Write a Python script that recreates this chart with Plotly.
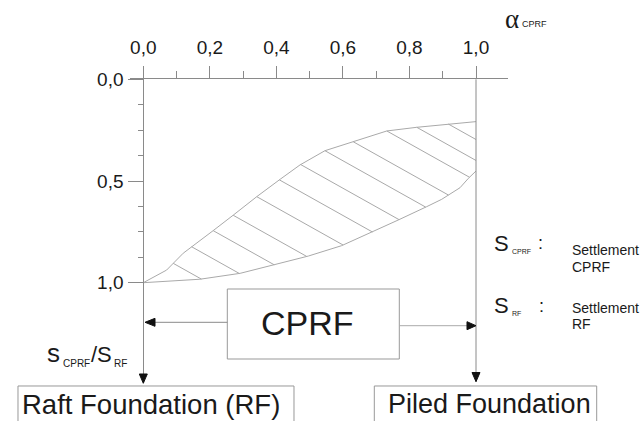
import numpy as np
import plotly.graph_objects as go

# ---------------- data ----------------
alpha_upper = [0.0, 0.070, 0.120, 0.145, 0.210, 0.271, 0.341, 0.411, 0.471, 0.546, 0.631, 0.732, 0.822, 0.917, 1.0]
s_upper = [1.0, 0.938, 0.855, 0.823, 0.744, 0.667, 0.577, 0.492, 0.421, 0.351, 0.307, 0.254, 0.236, 0.220, 0.208]
alpha_lower = [0.0, 0.170, 0.291, 0.391, 0.496, 0.596, 0.691, 0.766, 0.852, 0.897, 0.952, 0.977, 1.0]
s_lower = [1.0, 0.983, 0.954, 0.913, 0.869, 0.818, 0.749, 0.692, 0.626, 0.590, 0.533, 0.487, 0.451]
hatch_alpha = [0.090, 0.145, 0.210, 0.270, 0.341, 0.409, 0.473, 0.546, 0.631, 0.732, 0.822, 0.917]
hatch_slope = 0.916
x_ticks = [0.0, 0.2, 0.4, 0.6, 0.8, 1.0]
x_minor = [0.1, 0.3, 0.5, 0.7, 0.9]
y_ticks = [0.0, 0.5, 1.0]
y_minor = [0.125, 0.25, 0.375, 0.625, 0.75, 0.875]

W, H = 643, 421
FONT = "Liberation Sans, Arial, sans-serif"
AX = "#8a8a8a"
CURVE = "#a9a9a9"


def px(x):
    return x / W


def py(y):
    return 1 - y / H


# hatch lines computed from the curves
hx, hy = [], []
for a in hatch_alpha:
    s0 = float(np.interp(a, alpha_upper, s_upper))
    g = np.linspace(a, 1.0, 4000)
    line_s = s0 + hatch_slope * (g - a)
    low = np.interp(g, alpha_lower, s_lower)
    idx = np.where(line_s >= low)[0]
    i = idx[0] if len(idx) else len(g) - 1
    hx += [a, float(g[i]), None]
    hy += [s0, float(line_s[i]), None]

fig = go.Figure()
fig.add_trace(go.Scatter(x=hx, y=hy, mode="lines", line=dict(color=CURVE, width=1), hoverinfo="skip"))
fig.add_trace(go.Scatter(x=alpha_upper, y=s_upper, mode="lines", line=dict(color=CURVE, width=1), hoverinfo="skip"))
fig.add_trace(go.Scatter(x=alpha_lower, y=s_lower, mode="lines", line=dict(color=CURVE, width=1), hoverinfo="skip"))

x_left, x_right = 130.0, 508.0
x0px, x1px = 143.3, 476.0
y_top, y_bot = 79.3, 383.3
y1px = 282.7
xs = x1px - x0px
ys = y1px - y_top

fig.update_layout(
    width=W, height=H, autosize=False,
    margin=dict(l=0, r=0, t=0, b=0),
    paper_bgcolor="white", plot_bgcolor="white",
    showlegend=False,
    separators=", ",
    font=dict(family=FONT, color="#1a1a1a"),
    xaxis=dict(
        domain=[px(x_left), px(x_right)],
        range=[(x_left - x0px) / xs, (x_right - x0px) / xs],
        side="top", showline=True, linecolor=AX, linewidth=1,
        showgrid=False, zeroline=False,
        tickvals=x_ticks, tickformat=".1f",
        ticks="outside", ticklen=12.6, tickcolor=AX, tickwidth=1,
        tickfont=dict(size=19, family=FONT, color="#1a1a1a"),
        ticklabelstandoff=4,
        minor=dict(tickvals=x_minor, ticks="outside", ticklen=7.6, tickcolor=AX, tickwidth=1),
        automargin=False, fixedrange=True,
    ),
    yaxis=dict(
        domain=[py(y_bot), py(y_top)],
        range=[(y_bot - y_top) / ys, 0],
        anchor="free", position=px(x0px),
        showline=True, linecolor=AX, linewidth=1,
        showgrid=False, zeroline=False,
        tickvals=y_ticks, tickformat=".1f",
        ticks="outside", ticklen=15, tickcolor=AX, tickwidth=1,
        tickfont=dict(size=19, family=FONT, color="#1a1a1a"),
        ticklabelstandoff=1,
        minor=dict(tickvals=y_minor, ticks="outside", ticklen=5, tickcolor=AX, tickwidth=1),
        automargin=False, fixedrange=True,
    ),
)

shapes = []


def line(xa, ya, xb, yb, color=AX):
    shapes.append(dict(type="line", xref="paper", yref="paper", x0=px(xa), y0=py(ya), x1=px(xb), y1=py(yb),
                       line=dict(color=color, width=1)))


def tri(pts):
    d = "M " + " L ".join(f"{px(a):.5f},{py(b):.5f}" for a, b in pts) + " Z"
    shapes.append(dict(type="path", xref="paper", yref="paper", path=d, fillcolor="#111", line=dict(color="#111", width=1)))


def openbox(xa, xb, ytop, color="#999"):
    yb = H + 5
    d = f"M {px(xa):.5f},{py(yb):.5f} L {px(xa):.5f},{py(ytop):.5f} L {px(xb):.5f},{py(ytop):.5f} L {px(xb):.5f},{py(yb):.5f}"
    shapes.append(dict(type="path", xref="paper", yref="paper", path=d, line=dict(color=color, width=1)))


# right vertical line (alpha = 1) down to piled foundation
line(476, 79.3, 476, 381.7)
tri([(476, 381.7), (472, 372.5), (480, 372.5)])
# left axis arrowhead
tri([(143.3, 383.3), (139.3, 374), (147.3, 374)])
# CPRF box
shapes.append(dict(type="rect", xref="paper", yref="paper", x0=px(227.3), x1=px(399.3), y0=py(359), y1=py(289),
                   line=dict(color="#999", width=1)))
# arrows from CPRF box
line(227.3, 322.3, 155, 322.3)
tri([(145, 322.3), (155, 318.3), (155, 326.3)])
line(399.3, 325.7, 467, 325.7, color="#aaa")
tri([(476, 325.7), (467, 321.7), (467, 329.7)])
# bottom boxes
openbox(18, 294, 386)
openbox(374.3, 596.7, 386)

fig.update_layout(shapes=shapes)


def txt(x, y, s, size, xanchor="center", family=FONT, color="#1a1a1a"):
    fig.add_annotation(xref="paper", yref="paper", x=px(x), y=py(y), text=s, showarrow=False,
                       xanchor=xanchor, yanchor="middle", borderpad=0,
                       font=dict(size=size, family=family, color=color))


# alpha label
txt(512, 19, "α", 27, family="Liberation Serif, Times New Roman, serif")
txt(521, 24, "CPRF", 9, xanchor="left")
# legend texts
txt(502, 243, "S", 22)
txt(511, 251, "CPRF", 7, xanchor="left")
txt(540, 243, ":", 18)
txt(571, 250, "Settlement", 14, xanchor="left")
txt(571, 267, "CPRF", 14, xanchor="left")
txt(502, 305, "S", 22)
txt(511, 313, "RF", 7, xanchor="left")
txt(541, 306, ":", 18)
txt(571, 308, "Settlement", 14, xanchor="left")
txt(571, 324, "RF", 14, xanchor="left")
# s_CPRF / s_RF
txt(46, 353, "s", 26, xanchor="left")
txt(62, 363, "CPRF", 10, xanchor="left")
txt(90, 354, "/S", 22, xanchor="left")
txt(113, 363, "RF", 10, xanchor="left")
# boxes
txt(307, 323, "CPRF", 34)
txt(21, 404, "Raft Foundation (RF)", 27.5, xanchor="left")
txt(387, 404, "Piled Foundation", 27, xanchor="left")

fig.write_html("out.html", config={"displayModeBar": False},
               post_script="document.body.style.margin='0px';document.body.style.overflow='hidden';")
